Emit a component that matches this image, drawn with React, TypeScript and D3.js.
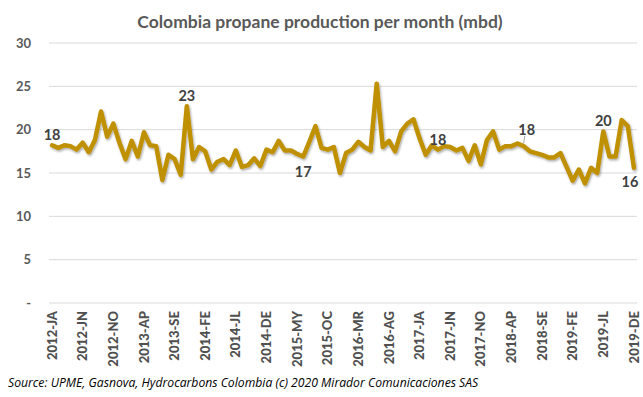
import React from 'react';
import * as d3 from 'd3';

// monthly propane production, Jan 2012 - Dec 2019 (mbd)
const years = [2012, 2013, 2014, 2015, 2016, 2017, 2018, 2019];
const monthCodes = ['JA', 'FE', 'MR', 'AP', 'MY', 'JN', 'JL', 'AG', 'SE', 'OC', 'NO', 'DE'];
const categories = years.flatMap(y => monthCodes.map(m => `${y}-${m}`));

const production = [
  18.2, 17.9, 18.2, 18.1, 17.7, 18.5, 17.4, 18.8, 22.1, 19.2, 20.7, 18.5,
  16.6, 18.7, 16.9, 19.7, 18.2, 18.1, 14.2, 17.1, 16.6, 14.8, 22.7, 16.6,
  18.0, 17.5, 15.4, 16.3, 16.6, 15.9, 17.6, 15.7, 15.9, 16.7, 15.8, 17.7,
  17.4, 18.7, 17.6, 17.6, 17.2, 16.9, 18.6, 20.4, 17.9, 17.7, 18.0, 15.0,
  17.3, 17.7, 18.6, 18.0, 17.6, 25.3, 18.0, 18.7, 17.5, 19.8, 20.7, 21.2,
  19.0, 17.1, 18.2, 17.7, 18.1, 18.0, 17.6, 17.9, 16.4, 18.2, 16.0, 18.8,
  19.8, 17.7, 18.1, 18.1, 18.4, 18.1, 17.5, 17.3, 17.1, 16.8, 16.8, 17.3,
  15.7, 14.1, 15.4, 13.8, 15.6, 15.0, 19.8, 16.9, 16.9, 21.1, 20.4, 15.6,
];

// which points carry a data label, and the text shown
const labelIndex = [0, 22, 41, 63, 77, 90, 95];
const labelText = ['18', '23', '17', '18', '18', '20', '16'];
const labelBelow = [false, false, true, false, false, false, true];

const yTicks = [0, 5, 10, 15, 20, 25, 30];
const xTickStep = 5;

const title = 'Colombia propane production per month (mbd)';
const source = 'Source:  UPME, Gasnova, Hydrocarbons Colombia (c) 2020 Mirador Comunicaciones SAS';

const W = 643;
const H = 397;
const font = 'Lato, "Open Sans", sans-serif';

export default function App() {
  const x = d3.scaleBand<number>()
    .domain(d3.range(categories.length))
    .range([49, 637]);
  const cx = (i: number) => (x(i) as number) + x.bandwidth() / 2;

  const y = d3.scaleLinear().domain([0, 30]).range([303, 43]);

  const line = d3.line<number>()
    .x((_, i) => cx(i))
    .y(d => y(d));

  const xTicks = categories.map((c, i) => ({ c, i })).filter(d => d.i % xTickStep === 0);

  return (
    <svg width={W} height={H} style={{ position: 'absolute', left: 0, top: 0, background: '#fff' }}>
      <defs>
        <filter id="shadow" x="-5%" y="-20%" width="110%" height="140%">
          <feDropShadow dx="1" dy="1.5" stdDeviation="1.2" floodColor="#000" floodOpacity="0.35" />
        </filter>
      </defs>

      <text x={320} y={28} textAnchor="middle" fontFamily={font} fontWeight="bold" fontSize={17.5} fill="#595959">
        {title}
      </text>

      {/* gridlines + y labels */}
      {yTicks.map(t => (
        <g key={t}>
          <line x1={49} x2={637} y1={y(t)} y2={y(t)} stroke="#d9d9d9" strokeWidth={1} />
          <text x={31} y={y(t)} dy="0.35em" textAnchor="end" fontFamily={font} fontWeight="bold"
            fontSize={13} fill="#595959">
            {t === 0 ? '-' : t}
          </text>
        </g>
      ))}

      {/* x labels */}
      {xTicks.map(d => (
        <text key={d.c} transform={`translate(${cx(d.i)},311) rotate(-90)`} dy="0.35em" textAnchor="end"
          fontFamily={font} fontWeight="900" fontSize={13} fill="#505050">
          {d.c}
        </text>
      ))}

      <path d={line(production) || ''} fill="none" stroke="#BF9000" strokeWidth={4.5}
        strokeLinejoin="round" strokeLinecap="round" filter="url(#shadow)" />

      {/* leader line for the 2018 label */}
      <line x1={cx(77) + 1} x2={cx(77)} y1={136} y2={y(production[77]) - 3} stroke="#a6a6a6" strokeWidth={1} />

      {labelIndex.map((idx, k) => {
        const px = cx(idx);
        const py = y(production[idx]);
        let ty = labelBelow[k] ? py + 15 : py - 10;
        let tx = px;
        if (idx === 77) { tx = px + 3; ty = 130; }
        if (idx === 95) { tx = px - 4; ty = py + 14; }
        return (
          <text key={idx} x={tx} y={ty} dy="0.35em" textAnchor="middle" fontFamily={font} fontWeight="bold"
            fontSize={14.5} fill="#404040">
            {labelText[k]}
          </text>
        );
      })}

      <text x={8} y={387} fontFamily={'"Open Sans", sans-serif'} fontStyle="italic" fontSize={12.2} fill="#000">
        {source}
      </text>
    </svg>
  );
}
